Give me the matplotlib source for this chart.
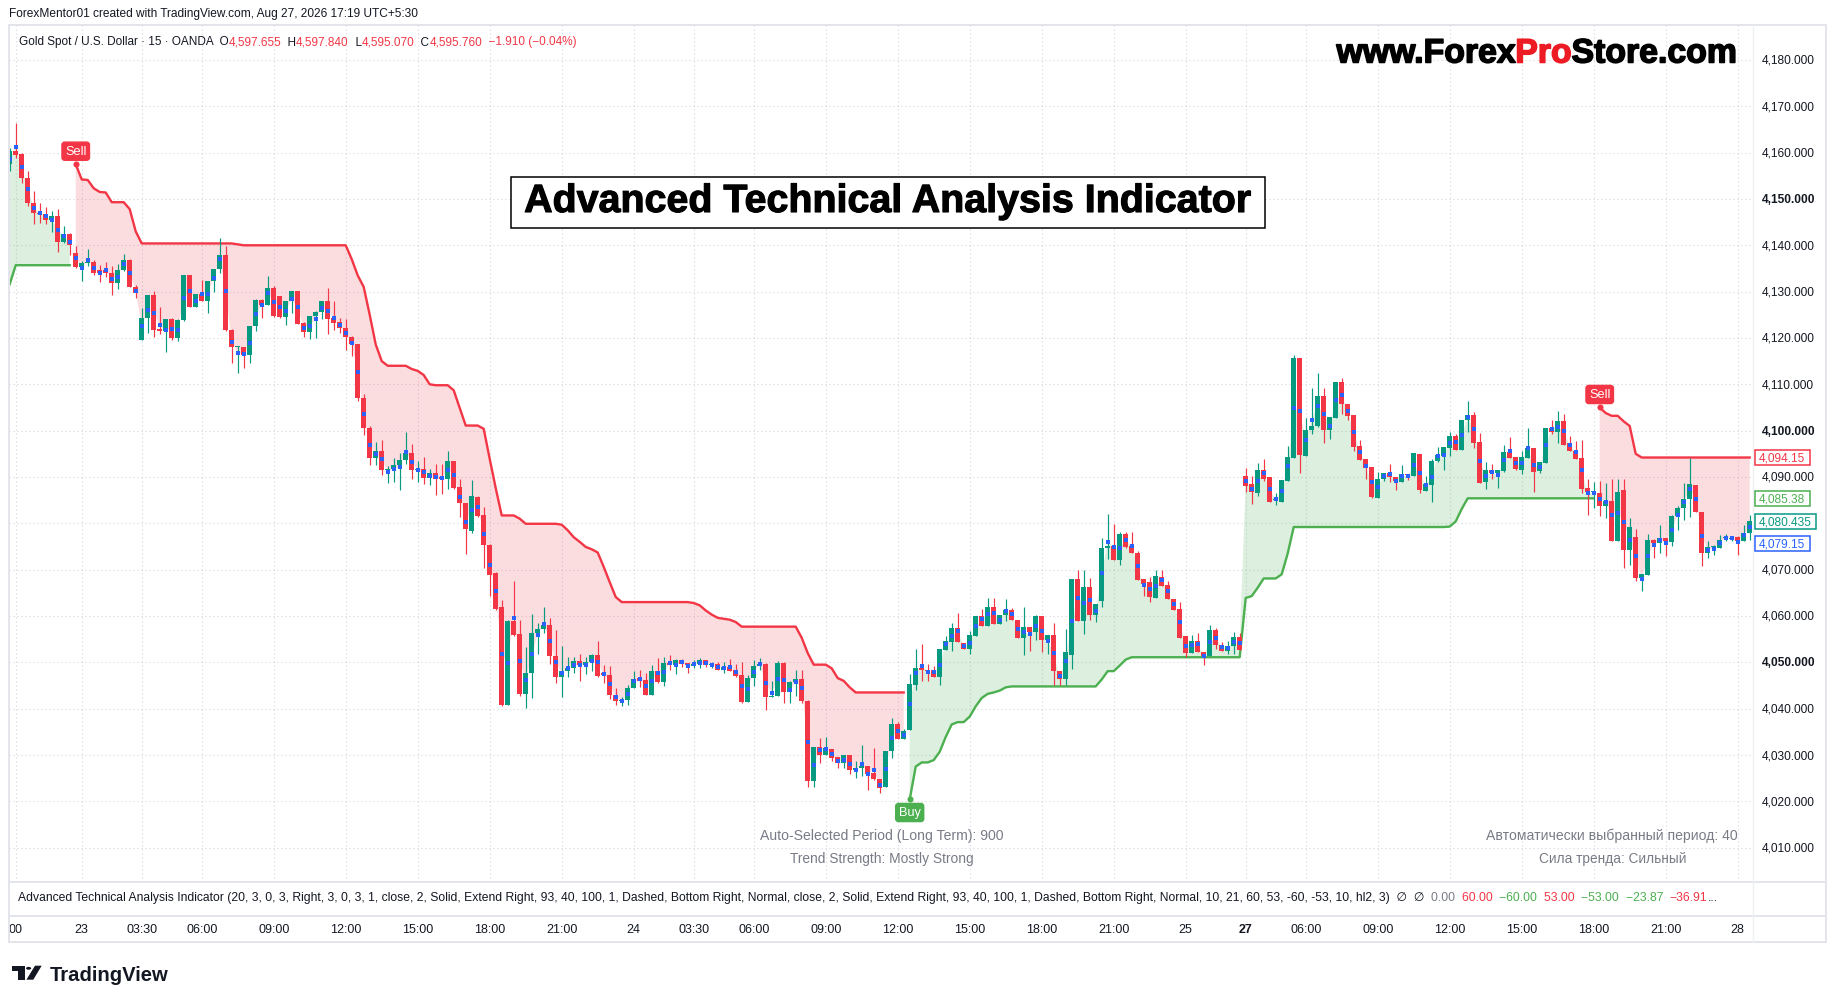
import numpy as np
import matplotlib
matplotlib.use("Agg")
import matplotlib.pyplot as plt
from matplotlib import font_manager
from matplotlib.patches import Rectangle, Polygon, Circle
from matplotlib.lines import Line2D
from matplotlib.transforms import blended_transform_factory, offset_copy
import matplotlib.patheffects as pe

# ---------------------------------------------------------------- data (15m candles)
opens = [
    4157.5, 4160.4, 4159.6, 4154.6, 4149.2, 4147.0, 4146.8, 4145.5, 4146.3, 4140.7,
    4142.5, 4138.3, 4135.3, 4136.1, 4136.3, 4134.6, 4134.6, 4134.1, 4131.9, 4134.6,
    4136.9, 4131.1, 4119.5, 4124.4, 4129.2, 4121.9, 4121.5, 4124.0, 4119.9, 4123.8,
    4133.5, 4126.7, 4129.4, 4128.0, 4132.2, 4134.8, 4137.8, 4121.8, 4118.0, 4118.0,
    4116.3, 4122.5, 4128.3, 4127.2, 4130.7, 4129.0, 4124.6, 4127.9, 4130.1, 4123.3,
    4121.3, 4124.7, 4125.7, 4127.9, 4124.3, 4123.4, 4122.2, 4120.3, 4118.6, 4107.0,
    4100.5, 4094.0, 4095.5, 4091.6, 4091.8, 4092.5, 4093.6, 4095.1, 4091.5, 4091.8,
    4089.7, 4090.9, 4090.0, 4089.6, 4093.4, 4087.9, 4084.3, 4078.4, 4085.7, 4081.7,
    4075.4, 4069.3, 4061.9, 4040.9, 4058.9, 4056.2, 4043.2, 4047.6, 4056.4, 4057.1,
    4058.1, 4051.3, 4046.8, 4048.2, 4048.8, 4050.2, 4049.5, 4050.0, 4051.5, 4047.6,
    4047.2, 4043.0, 4041.6, 4041.8, 4044.5, 4046.6, 4046.1, 4043.0, 4048.2, 4045.7,
    4049.9, 4049.4, 4050.4, 4049.8, 4049.3, 4049.6, 4050.4, 4049.4, 4049.7, 4048.3,
    4049.0, 4048.4, 4047.3, 4041.4, 4046.6, 4049.3, 4049.7, 4042.5, 4042.8, 4049.9,
    4043.5, 4045.7, 4046.5, 4041.7, 4024.3, 4031.8, 4030.1, 4031.4, 4029.5, 4028.3,
    4029.9, 4026.7, 4027.1, 4027.6, 4026.1, 4024.8, 4023.0, 4030.8, 4036.6, 4033.5,
    4035.5, 4045.2, 4048.8, 4048.4, 4048.4, 4046.8, 4052.7, 4054.4, 4057.5, 4054.2,
    4052.8, 4055.6, 4059.9, 4057.9, 4062.0, 4058.2, 4060.2, 4061.4, 4059.2, 4055.3,
    4057.7, 4056.5, 4059.9, 4054.9, 4056.0, 4048.2, 4046.3, 4051.5, 4067.9, 4058.9,
    4066.2, 4060.3, 4063.2, 4074.7, 4075.2, 4072.1, 4077.7, 4075.1, 4073.6, 4067.9,
    4067.3, 4063.9, 4068.4, 4066.6, 4063.6, 4061.6, 4055.6, 4052.0, 4054.6, 4052.3,
    4051.3, 4056.9, 4053.8, 4052.4, 4053.6, 4055.5, 4090.2, 4088.4, 4086.5, 4091.4,
    4090.0, 4085.0, 4084.7, 4089.1, 4094.0, 4115.6, 4094.5, 4100.1, 4100.9, 4107.4,
    4100.1, 4102.7, 4110.4, 4105.7, 4103.3, 4096.6, 4093.8, 4092.1, 4085.4, 4089.6,
    4090.9, 4090.1, 4088.9, 4090.6, 4090.2, 4094.9, 4087.0, 4088.2, 4093.4, 4094.5,
    4096.3, 4098.8, 4095.8, 4102.2, 4103.3, 4097.5, 4088.9, 4091.4, 4090.8, 4091.3,
    4095.4, 4094.3, 4091.5, 4094.2, 4096.3, 4091.2, 4093.1, 4100.5, 4099.6, 4102.1,
    4097.3, 4095.7, 4094.0, 4087.7, 4086.8, 4086.6, 4083.7, 4084.9, 4076.2, 4087.1,
    4074.2, 4077.1, 4068.2, 4068.8, 4076.3, 4075.8, 4076.9, 4076.0, 4081.6, 4083.4,
    4085.3, 4088.2, 4082.4, 4073.6, 4074.8, 4074.7, 4076.8, 4076.7, 4077.0, 4076.2,
    4077.9,
]
highs = [
    4161.0, 4166.3, 4160.0, 4156.0, 4151.7, 4149.1, 4148.3, 4147.3, 4147.8, 4144.1,
    4142.6, 4139.9, 4136.6, 4139.1, 4136.8, 4135.7, 4136.4, 4135.6, 4135.9, 4138.2,
    4137.0, 4131.4, 4126.5, 4129.3, 4130.1, 4126.7, 4124.1, 4124.4, 4124.0, 4133.6,
    4133.6, 4129.5, 4132.6, 4132.3, 4134.9, 4141.6, 4139.8, 4121.9, 4118.2, 4118.1,
    4122.6, 4128.4, 4128.4, 4133.4, 4131.2, 4129.1, 4128.0, 4130.2, 4130.2, 4123.4,
    4124.8, 4125.8, 4128.0, 4130.7, 4127.9, 4124.4, 4124.1, 4120.4, 4118.7, 4108.0,
    4101.0, 4097.5, 4097.9, 4092.3, 4094.0, 4095.1, 4099.7, 4097.2, 4093.4, 4094.4,
    4091.8, 4092.9, 4092.9, 4095.5, 4093.5, 4089.5, 4084.4, 4089.3, 4086.0, 4083.5,
    4075.5, 4069.4, 4063.5, 4059.2, 4067.5, 4059.2, 4053.3, 4060.5, 4058.5, 4061.9,
    4059.6, 4056.9, 4053.5, 4051.2, 4051.2, 4051.7, 4051.2, 4051.7, 4054.5, 4049.5,
    4049.3, 4044.5, 4042.5, 4045.2, 4048.2, 4048.4, 4047.7, 4049.4, 4051.0, 4051.1,
    4051.5, 4050.7, 4050.7, 4049.9, 4050.6, 4050.9, 4050.4, 4050.0, 4050.0, 4050.0,
    4050.7, 4049.7, 4050.0, 4047.3, 4050.4, 4050.9, 4049.8, 4045.9, 4050.2, 4050.0,
    4045.9, 4048.4, 4048.4, 4041.8, 4031.8, 4033.7, 4033.9, 4031.4, 4029.5, 4029.9,
    4029.9, 4028.6, 4032.1, 4027.6, 4031.5, 4024.8, 4030.9, 4038.0, 4037.2, 4035.6,
    4047.4, 4052.8, 4053.9, 4049.6, 4049.3, 4052.8, 4055.6, 4058.5, 4060.7, 4054.2,
    4056.8, 4059.9, 4061.6, 4063.8, 4063.9, 4060.3, 4063.6, 4061.8, 4059.2, 4061.9,
    4057.7, 4060.3, 4059.9, 4056.0, 4058.5, 4048.2, 4057.1, 4067.9, 4070.0, 4069.9,
    4068.1, 4062.5, 4076.9, 4082.1, 4079.8, 4078.1, 4078.2, 4078.2, 4074.0, 4067.9,
    4068.4, 4069.9, 4070.0, 4067.5, 4063.6, 4063.0, 4055.6, 4056.0, 4056.4, 4052.3,
    4058.0, 4057.5, 4054.4, 4054.7, 4056.5, 4056.4, 4091.9, 4090.3, 4093.1, 4093.8,
    4090.0, 4086.5, 4089.4, 4096.7, 4116.3, 4115.6, 4102.7, 4109.3, 4112.5, 4109.3,
    4102.9, 4110.4, 4111.3, 4105.7, 4103.3, 4097.9, 4093.8, 4092.1, 4091.1, 4090.9,
    4092.9, 4090.1, 4092.5, 4090.6, 4095.1, 4094.9, 4090.3, 4093.8, 4096.5, 4096.5,
    4099.6, 4099.3, 4102.3, 4106.4, 4104.0, 4099.4, 4093.2, 4092.9, 4091.4, 4097.0,
    4098.6, 4094.3, 4095.7, 4100.5, 4096.3, 4093.2, 4100.5, 4102.3, 4104.2, 4103.5,
    4098.8, 4097.7, 4097.9, 4089.5, 4089.0, 4089.1, 4088.7, 4089.5, 4089.6, 4089.6,
    4081.2, 4078.7, 4069.0, 4077.7, 4076.7, 4079.6, 4076.9, 4081.9, 4083.7, 4088.8,
    4094.2, 4088.2, 4082.4, 4076.2, 4075.3, 4077.4, 4077.6, 4077.3, 4077.2, 4079.7,
    4081.9,
]
lows = [
    4156.0, 4158.9, 4153.5, 4148.5, 4144.7, 4144.9, 4144.7, 4142.9, 4138.5, 4140.5,
    4138.0, 4135.2, 4132.3, 4135.5, 4133.6, 4132.0, 4133.2, 4129.3, 4130.6, 4134.4,
    4131.0, 4128.6, 4119.5, 4121.1, 4120.3, 4120.8, 4117.0, 4119.5, 4119.3, 4123.6,
    4126.6, 4126.6, 4127.9, 4125.4, 4129.9, 4134.1, 4121.6, 4114.6, 4112.5, 4113.6,
    4114.6, 4121.6, 4124.4, 4127.1, 4124.6, 4124.3, 4122.7, 4125.3, 4123.0, 4120.3,
    4119.8, 4120.0, 4124.0, 4120.9, 4121.8, 4121.1, 4117.4, 4116.1, 4106.5, 4099.0,
    4092.5, 4092.5, 4090.5, 4088.7, 4088.9, 4087.2, 4092.9, 4089.5, 4088.9, 4088.4,
    4088.2, 4086.2, 4086.4, 4087.5, 4087.3, 4081.3, 4073.3, 4077.9, 4081.3, 4070.4,
    4064.3, 4061.2, 4040.5, 4040.8, 4055.6, 4042.8, 4040.2, 4042.3, 4051.7, 4056.4,
    4049.7, 4045.5, 4042.5, 4046.8, 4047.7, 4045.9, 4047.4, 4048.1, 4046.8, 4045.5,
    4042.1, 4040.9, 4040.6, 4040.9, 4044.4, 4044.7, 4043.0, 4043.0, 4045.5, 4045.0,
    4048.4, 4047.4, 4049.1, 4047.6, 4048.8, 4048.8, 4049.1, 4048.8, 4048.3, 4047.7,
    4048.1, 4046.8, 4041.2, 4041.4, 4045.0, 4048.4, 4039.8, 4042.5, 4042.7, 4041.2,
    4041.2, 4042.7, 4041.2, 4023.2, 4023.1, 4028.3, 4030.0, 4028.6, 4027.2, 4027.2,
    4026.0, 4025.0, 4025.4, 4022.4, 4024.7, 4021.9, 4023.0, 4029.4, 4033.5, 4033.5,
    4035.5, 4044.1, 4045.9, 4045.9, 4046.8, 4045.2, 4052.6, 4052.4, 4054.4, 4052.8,
    4051.7, 4055.6, 4057.9, 4057.9, 4058.2, 4058.2, 4058.9, 4059.1, 4055.3, 4051.5,
    4052.4, 4054.9, 4052.3, 4051.9, 4045.2, 4045.2, 4045.2, 4048.6, 4058.9, 4056.2,
    4059.2, 4058.7, 4062.0, 4072.2, 4072.1, 4071.1, 4074.7, 4073.5, 4067.7, 4064.3,
    4063.1, 4063.9, 4066.4, 4063.6, 4061.4, 4055.3, 4051.2, 4052.0, 4052.2, 4049.4,
    4051.3, 4052.8, 4052.4, 4051.7, 4051.7, 4052.6, 4086.8, 4084.2, 4085.9, 4089.1,
    4084.7, 4084.0, 4084.6, 4089.1, 4094.0, 4090.8, 4094.5, 4099.2, 4100.7, 4097.3,
    4098.1, 4102.7, 4103.5, 4102.4, 4095.7, 4093.7, 4089.5, 4085.5, 4085.4, 4089.1,
    4088.9, 4087.2, 4088.9, 4089.3, 4090.2, 4086.5, 4087.0, 4084.6, 4093.2, 4091.6,
    4094.5, 4095.9, 4095.8, 4099.6, 4096.3, 4088.6, 4087.5, 4089.5, 4087.7, 4091.1,
    4094.2, 4091.5, 4090.6, 4094.0, 4086.7, 4090.9, 4093.1, 4099.2, 4097.3, 4097.0,
    4095.6, 4093.9, 4086.5, 4081.9, 4083.4, 4081.6, 4081.2, 4076.2, 4076.2, 4070.4,
    4071.1, 4067.5, 4065.4, 4068.8, 4072.6, 4073.5, 4072.9, 4075.1, 4078.5, 4080.8,
    4081.4, 4082.4, 4070.8, 4072.6, 4073.1, 4074.7, 4076.2, 4076.2, 4073.1, 4076.2,
    4076.5,
]
closes = [
    4160.3, 4159.5, 4154.5, 4149.2, 4147.0, 4146.7, 4145.5, 4146.3, 4140.7, 4142.5,
    4140.1, 4135.3, 4136.1, 4136.3, 4134.1, 4134.1, 4134.1, 4131.9, 4134.6, 4136.9,
    4131.1, 4129.8, 4124.4, 4129.2, 4121.7, 4121.5, 4124.0, 4119.9, 4123.8, 4133.5,
    4126.7, 4129.4, 4128.0, 4132.2, 4134.8, 4137.8, 4121.7, 4118.0, 4118.1, 4116.3,
    4122.5, 4128.3, 4127.2, 4130.7, 4124.7, 4124.6, 4127.9, 4130.1, 4123.1, 4121.3,
    4124.7, 4125.7, 4127.9, 4124.0, 4123.2, 4122.1, 4120.3, 4118.6, 4107.0, 4100.5,
    4094.0, 4095.5, 4091.6, 4091.8, 4092.5, 4093.6, 4095.1, 4091.5, 4091.8, 4089.7,
    4090.9, 4089.6, 4089.6, 4093.4, 4087.7, 4084.3, 4078.8, 4085.9, 4081.5, 4075.3,
    4068.9, 4061.5, 4040.9, 4058.9, 4056.0, 4043.2, 4047.7, 4056.4, 4057.1, 4058.1,
    4051.3, 4046.8, 4048.2, 4048.8, 4050.2, 4049.5, 4050.0, 4051.5, 4047.1, 4047.2,
    4042.9, 4041.6, 4041.9, 4044.5, 4046.4, 4045.9, 4043.0, 4048.2, 4045.7, 4049.9,
    4049.4, 4050.4, 4049.7, 4049.5, 4049.7, 4050.4, 4049.4, 4049.5, 4048.3, 4049.0,
    4048.1, 4047.0, 4041.4, 4046.6, 4049.3, 4049.7, 4042.5, 4042.8, 4049.9, 4043.5,
    4045.7, 4046.5, 4041.6, 4024.3, 4031.8, 4030.1, 4031.5, 4029.4, 4028.3, 4029.9,
    4026.7, 4027.1, 4027.6, 4026.0, 4024.8, 4022.9, 4030.9, 4036.6, 4033.5, 4035.1,
    4045.4, 4048.8, 4048.3, 4048.1, 4046.8, 4052.8, 4054.7, 4057.5, 4054.4, 4052.8,
    4055.8, 4059.9, 4057.9, 4062.0, 4058.2, 4060.2, 4061.2, 4059.1, 4055.3, 4057.7,
    4056.5, 4059.9, 4054.9, 4056.0, 4048.1, 4046.3, 4052.3, 4067.9, 4058.9, 4066.2,
    4060.3, 4062.5, 4074.7, 4075.2, 4072.1, 4077.7, 4074.9, 4073.5, 4067.7, 4067.0,
    4064.1, 4068.6, 4066.4, 4063.6, 4061.4, 4055.3, 4052.0, 4054.6, 4052.2, 4051.3,
    4056.9, 4053.7, 4052.4, 4053.6, 4055.5, 4052.6, 4088.0, 4086.8, 4091.4, 4089.5,
    4084.7, 4085.1, 4089.3, 4094.3, 4115.6, 4094.7, 4100.1, 4100.9, 4107.4, 4100.1,
    4102.9, 4110.4, 4105.7, 4103.2, 4096.5, 4093.7, 4092.0, 4085.7, 4089.6, 4090.9,
    4090.1, 4089.1, 4090.6, 4090.4, 4095.1, 4087.2, 4088.4, 4093.4, 4094.7, 4096.5,
    4098.8, 4095.9, 4102.3, 4103.3, 4097.4, 4088.6, 4091.4, 4090.8, 4091.4, 4095.4,
    4094.2, 4091.8, 4094.3, 4096.3, 4091.1, 4093.2, 4100.5, 4099.6, 4102.1, 4097.0,
    4095.6, 4093.9, 4087.5, 4086.7, 4086.9, 4083.7, 4084.8, 4076.2, 4086.8, 4074.2,
    4079.3, 4068.2, 4069.0, 4076.3, 4075.8, 4076.9, 4076.1, 4081.6, 4083.4, 4085.3,
    4088.4, 4082.4, 4073.6, 4074.9, 4074.9, 4076.5, 4077.0, 4076.9, 4076.2, 4077.9,
    4080.435,
]
# trailing stop of the indicator (one value per bar)
trail_stop = [
    4131.6,
    4135.7, 4135.7, 4135.7, 4135.7, 4135.7, 4135.7, 4135.7, 4135.7, 4135.7, 4135.7,
    4157.5, 4154.2, 4154.1, 4152.3, 4151.5, 4151.4, 4149.3, 4149.3, 4149.3, 4147.8, 4143.0,
    4140.4, 4140.4, 4140.4, 4140.4, 4140.4, 4140.4, 4140.4, 4140.4,
    4140.4, 4140.4, 4140.4, 4140.4, 4140.4, 4140.4, 4140.4, 4140.4,
    4140.2,
    4140.0, 4140.0, 4140.0, 4140.0, 4140.0, 4140.0, 4140.0, 4140.0, 4140.0,
    4140.0, 4140.0, 4140.0, 4140.0, 4140.0, 4140.0, 4140.0, 4140.0, 4140.0,
    4137.0, 4133.5, 4131.0, 4125.0, 4118.6, 4115.0,
    4114.0, 4114.0, 4114.0, 4114.0,
    4113.3, 4112.9, 4112.0, 4110.0,
    4109.8, 4109.8, 4109.8,
    4108.7, 4104.9,
    4101.1, 4101.1, 4101.1,
    4100.4, 4093.9, 4087.6,
    4081.7, 4081.7, 4081.7,
    4081.0,
    4079.9, 4079.9, 4079.9, 4079.9, 4079.9, 4079.9,
    4079.7, 4078.5, 4077.0, 4076.0, 4074.9, 4074.4, 4073.7, 4070.6, 4067.3, 4064.1,
    4063.0, 4063.0, 4063.0, 4063.0, 4063.0, 4063.0, 4063.0, 4063.0, 4063.0, 4063.0, 4063.0, 4063.0,
    4062.8, 4062.3, 4061.2, 4060.3, 4059.6, 4059.4, 4059.2, 4058.7,
    4057.7, 4057.7, 4057.7, 4057.7, 4057.7, 4057.7, 4057.7, 4057.7, 4057.7, 4057.7,
    4055.3, 4052.0,
    4049.5, 4049.5, 4049.5,
    4048.7, 4046.6, 4046.0, 4044.6,
    4043.5, 4043.5, 4043.5, 4043.5, 4043.5, 4043.5, 4043.5, 4043.5, 4043.5,
    4020.4, 4027.5, 4028.4, 4028.4, 4028.9, 4030.7, 4033.9, 4036.6, 4037.1, 4037.1,
    4038.3, 4040.5, 4042.3, 4043.2, 4043.5, 4043.9, 4044.6,
    4044.8, 4044.8, 4044.8, 4044.8, 4044.8, 4044.8, 4044.8, 4044.8,
    4044.8, 4044.8, 4044.8, 4044.8, 4044.8, 4044.8, 4044.8,
    4046.3, 4048.1, 4048.1, 4049.3, 4050.6,
    4051.1, 4051.1, 4051.1, 4051.1, 4051.1, 4051.1, 4051.1, 4051.1, 4051.1, 4051.1,
    4051.1, 4051.1, 4051.1, 4051.1, 4051.1, 4051.1, 4051.1, 4051.1, 4051.1,
    4063.9, 4064.3, 4066.1,
    4068.1, 4068.1, 4068.1,
    4069.0, 4073.5,
    4079.2, 4079.2, 4079.2, 4079.2, 4079.2, 4079.2, 4079.2, 4079.2, 4079.2, 4079.2,
    4079.2, 4079.2, 4079.2, 4079.2, 4079.2, 4079.2, 4079.2, 4079.2, 4079.2, 4079.2,
    4079.2, 4079.2, 4079.2, 4079.2, 4079.2, 4079.2,
    4079.3, 4080.4, 4083.1,
    4085.4, 4085.4, 4085.4, 4085.4, 4085.4, 4085.4, 4085.4, 4085.4, 4085.4, 4085.4, 4085.4,
    4085.4, 4085.4, 4085.4, 4085.4, 4085.4, 4085.4, 4085.4, 4085.4, 4085.4, 4085.4, 4085.4,
    4105.0, 4103.8, 4103.2, 4103.2, 4102.0, 4101.0, 4095.0,
    4094.2, 4094.2, 4094.2, 4094.2, 4094.2, 4094.2, 4094.2, 4094.2, 4094.2, 4094.2,
    4094.2, 4094.2, 4094.2, 4094.2, 4094.2, 4094.2, 4094.2, 4094.2, 4094.2,
]
signal_idx = [11, 150, 265]
signal_kind = ["Sell", "Buy", "Sell"]

price_ticks = [4010, 4020, 4030, 4040, 4050, 4060, 4070, 4080, 4090, 4100,
               4110, 4120, 4130, 4140, 4150, 4160, 4170, 4180]
time_tick_idx = [1, 12, 22, 32, 44, 56, 68, 80, 92, 104, 114, 124, 136, 148, 160,
                 172, 184, 196, 206, 216, 228, 240, 252, 264, 276, 288]
time_tick_labels = ["00", "23", "03:30", "06:00", "09:00", "12:00", "15:00", "18:00",
                    "21:00", "24", "03:30", "06:00", "09:00", "12:00", "15:00", "18:00",
                    "21:00", "25", "27", "06:00", "09:00", "12:00", "15:00", "18:00",
                    "21:00", "28"]
tag_values = [4094.15, 4085.38, 4080.435, 4079.15]
tag_texts = ["4,094.15", "4,085.38", "4,080.435", "4,079.15"]

# ---------------------------------------------------------------- styling
RED = "#F23645"
GREEN = "#4CAF50"
UPC = "#089981"
BLUE = "#2962FF"
TXT = "#131722"
GRAY = "#787B86"
GRID = "#D3D6DD"
FRAME = "#E3E5EA"

W, H = 1835, 1004
fig = plt.figure(figsize=(W / 100, H / 100), dpi=100)
fig.patch.set_facecolor("white")
renderer = fig.canvas.get_renderer()

_names = {f.name for f in font_manager.fontManager.ttflist}
BASE = "Liberation Sans" if "Liberation Sans" in _names else "DejaVu Sans"
NARROW = "Liberation Sans Narrow" if "Liberation Sans Narrow" in _names else BASE
FAM = [BASE, "DejaVu Sans"]
NFAM = [NARROW, BASE, "DejaVu Sans"]


def fy(y):
    return 1 - y / H


L_PX, R_PX, T_PX, B_PX = 9.3, 1753.0, 26.0, 882.7
ax = fig.add_axes([L_PX / W, fy(B_PX), (R_PX - L_PX) / W, (B_PX - T_PX) / H])
ax.set_xlim(-0.07, 290.55)
ax.set_ylim(4002.66, 4187.54)
ax.set_axis_off()

o = np.array(opens); h = np.array(highs); l = np.array(lows); c = np.array(closes)
st = np.array(trail_stop)
n = len(c)
x = np.arange(n)
ohlc4 = (o + h + l + c) / 4

# trend direction from signals
trend = np.empty(n)
cur = 1 if signal_kind[0] == "Sell" else -1
sig = dict(zip(signal_idx, signal_kind))
for i in range(n):
    if i in sig:
        cur = -1 if sig[i] == "Sell" else 1
    trend[i] = cur
upper = np.where(trend < 0, st, np.nan)
lower = np.where(trend > 0, st, np.nan)

# grid
for p in price_ticks:
    ax.axhline(p, color=GRID, lw=0.8, ls=(0, (1, 2.6)), zorder=0)
for t in time_tick_idx:
    ax.axvline(t, color=GRID, lw=0.8, ls=(0, (1, 2.6)), zorder=0)

# fills & stop lines
ax.fill_between(x, upper, ohlc4, where=trend < 0, color=RED, alpha=0.17, lw=0, zorder=1)
ax.fill_between(x, lower, ohlc4, where=trend > 0, color=GREEN, alpha=0.19, lw=0, zorder=1)
ax.plot(x, upper, color=RED, lw=1.7, zorder=2, solid_joinstyle="round")
ax.plot(x, lower, color=GREEN, lw=1.7, zorder=2, solid_joinstyle="round")

# candles
cols = [UPC if cc >= oo else RED for oo, cc in zip(o, c)]
ax.vlines(x, l, h, colors=cols, lw=0.85, zorder=3)
ax.bar(x, np.maximum(np.abs(c - o), 0.22), bottom=np.minimum(o, c), width=0.74,
       color=cols, linewidth=0, zorder=3.1)
ax.plot(x, ohlc4, ls="none", marker="s", ms=2.3, mew=0, color=BLUE, zorder=4)

# signal labels
for idx, kind in zip(signal_idx, signal_kind):
    p = st[idx]
    col = RED if kind == "Sell" else GREEN
    ax.plot([idx], [p], marker="o", ms=4.4, color=col, mew=0, zorder=5)
    off = 7 if kind == "Sell" else -7
    ax.annotate(kind, xy=(idx, p), xytext=(0, off), textcoords="offset pixels",
                ha="center", va="bottom" if kind == "Sell" else "top",
                fontsize=9.2, color="white", family=FAM, zorder=6,
                bbox=dict(boxstyle="round,pad=0.24,rounding_size=0.22", fc=col, ec=col))

# price axis labels
trans_py = blended_transform_factory(fig.transFigure, ax.transData)
for p in price_ticks:
    ax.text(1762 / W, p, f"{p:,.3f}", transform=trans_py, ha="left", va="center",
            fontsize=8.6, family=FAM, color=TXT,
            weight="bold" if p % 50 == 0 else "normal", zorder=5, clip_on=False)


# text helpers
def text_w(s, size, family, weight):
    t1 = fig.text(0, 0, s + "|", fontsize=size, family=family, weight=weight)
    t2 = fig.text(0, 0, "|", fontsize=size, family=family, weight=weight)
    w = t1.get_window_extent(renderer).width - t2.get_window_extent(renderer).width
    t1.remove(); t2.remove()
    return w


def segments(segs, x_px, y_px, size, family, weight="normal", target_w=None,
             align="left", stroke=0.0, va="center", z=3):
    widths = [text_w(s, size, family, weight) for s, _ in segs]
    total = sum(widths)
    if target_w is not None:
        size = size * target_w / total
        widths = [text_w(s, size, family, weight) for s, _ in segs]
        total = sum(widths)
    start = x_px if align == "left" else (x_px - total if align == "right" else x_px - total / 2)
    xx = start
    for (s, col), w in zip(segs, widths):
        t = fig.text(xx / W, fy(y_px), s, color=col, fontsize=size, family=family,
                     weight=weight, ha="left", va=va, zorder=z)
        if stroke > 0:
            t.set_path_effects([pe.withStroke(linewidth=stroke, foreground=col)])
        xx += w


# price tags (boxes drawn at fixed height, stacked when overlapping)
tag_cols = [RED, GREEN, UPC, BLUE]
tag_shift = [0, 0, 0, 16.3]
fig.canvas.draw()
for v, s, col, sh in zip(tag_values, tag_texts, tag_cols, tag_shift):
    yc_disp = ax.transData.transform((0, v))[1] - sh
    yc_px = H - yc_disp
    tw = text_w(s, 8.6, FAM, "normal")
    bw, bh = tw + 9.0, 15.0
    fig.add_artist(Rectangle((1754.5 / W, fy(yc_px + bh / 2)), bw / W, bh / H,
                             transform=fig.transFigure, fc="white", ec=col, lw=1.1, zorder=20))
    fig.text(1759.0 / W, fy(yc_px), s, color=col, fontsize=8.6, family=FAM,
             ha="left", va="center", zorder=21)

# time axis labels
trans_tx = blended_transform_factory(ax.transData, fig.transFigure)
for t, lab in zip(time_tick_idx, time_tick_labels):
    ax.text(t, fy(930.5), lab, transform=trans_tx, ha="center", va="center",
            fontsize=9, family=NFAM, color=TXT,
            weight="bold" if lab == "27" else "normal", clip_on=False)


# frame lines
def fline(x0, y0, x1, y1, col=FRAME, lw=1.4):
    fig.add_artist(Line2D([x0 / W, x1 / W], [fy(y0), fy(y1)], color=col, lw=lw,
                          transform=fig.transFigure))


fline(L_PX, 26, 1826, 26)
fline(L_PX, 943.3, 1826, 943.3)
fline(L_PX, 26, L_PX, 943.3)
fline(1826, 26, 1826, 943.3)
fline(L_PX, B_PX, 1826, B_PX)
fline(L_PX, 916.7, 1826, 916.7)
fline(R_PX, 26, R_PX, 943.3, col="#EEF0F3", lw=1.0)

# header lines
segments([("ForexMentor01 created with TradingView.com, Aug 27, 2026 17:19 UTC+5:30", TXT)],
         9.4, 14.5, 9, NFAM, target_w=411.6)
segments([("Gold Spot / U.S. Dollar \u00b7 15 \u00b7 OANDA  O", TXT), ("4,597.655", RED),
          ("  H", TXT), ("4,597.840", RED), ("  L", TXT), ("4,595.070", RED),
          ("  C", TXT), ("4,595.760", RED), ("  \u22121.910 (\u22120.04%)", RED)],
         18.6, 42.5, 9, NFAM, target_w=556.4)

# watermark
segments([("www.Forex", "#000000"), ("Pro", "#ED1C24"), ("Store.com", "#000000")],
         1336.5, 55, 24, FAM, weight="bold", target_w=401.4, stroke=1.1)

# title box
fig.add_artist(Rectangle((511.2 / W, fy(229.0)), (1264.5 - 511.2) / W, (229.0 - 177.5) / H,
                         transform=fig.transFigure, fc="white", ec="black", lw=1.1, zorder=30))
segments([("Advanced Technical Analysis Indicator", "#000000")], 887.0, 213.0, 28, FAM,
         weight="bold", target_w=727.0, align="center", stroke=0.8, va="baseline", z=31)

# info texts in the main pane
segments([("Auto-Selected Period (Long Term): 900", GRAY)], 882, 835.7, 9, NFAM,
         target_w=242, align="center")
segments([("Trend Strength: Mostly Strong", GRAY)], 882, 859, 9, NFAM,
         target_w=185, align="center")
segments([("\u0410\u0432\u0442\u043e\u043c\u0430\u0442\u0438\u0447\u0435\u0441\u043a\u0438 "
           "\u0432\u044b\u0431\u0440\u0430\u043d\u043d\u044b\u0439 \u043f\u0435\u0440\u0438\u043e\u0434: 40", GRAY)],
         1738, 835.7, 9, NFAM, target_w=251, align="right")
segments([("\u0421\u0438\u043b\u0430 \u0442\u0440\u0435\u043d\u0434\u0430: "
           "\u0421\u0438\u043b\u044c\u043d\u044b\u0439", GRAY)],
         1612.5, 859, 9, NFAM, target_w=147, align="center")

# indicator legend row
segments([("Advanced Technical Analysis Indicator (20, 3, 0, 3, Right, 3, 0, 3, 1, close, 2, Solid, "
           "Extend Right, 93, 40, 100, 1, Dashed, Bottom Right, Normal, close, 2, Solid, Extend Right, "
           "93, 40, 100, 1, Dashed, Bottom Right, Normal, 10, 21, 60, 53, -60, -53, 10, hl2, 3)  "
           "\u2205  \u2205  ", TXT),
          ("0.00  ", GRAY), ("60.00  ", RED), ("\u221260.00  ", GREEN), ("53.00  ", RED),
          ("\u221253.00  ", GREEN), ("\u221223.87  ", GREEN), ("\u221236.91", RED), ("...", TXT)],
         17.6, 898, 9, NFAM, target_w=1702)


# TradingView logo
def P(xp, yp):
    return (xp / W, fy(yp))


logo_col = TXT
fig.add_artist(Polygon([P(11.7, 966.7), P(24.5, 966.7), P(24.5, 980.7), P(18.3, 980.7),
                        P(18.3, 971.9), P(11.7, 971.9)], closed=True,
                       transform=fig.transFigure, fc=logo_col, ec="none"))
fig.add_artist(Polygon([P(35.0, 966.7), P(41.7, 966.7), P(33.3, 980.7), P(26.4, 980.7)],
                       closed=True, transform=fig.transFigure, fc=logo_col, ec="none"))
fig.add_artist(Circle(P(28.6, 969.3), 2.6 / W, transform=fig.transFigure, fc=logo_col, ec="none"))
segments([("TradingView", logo_col)], 50, 980.7, 15, FAM, weight="bold",
         target_w=119.3, va="baseline")

fig.savefig("out.png", dpi=100, facecolor="white")
